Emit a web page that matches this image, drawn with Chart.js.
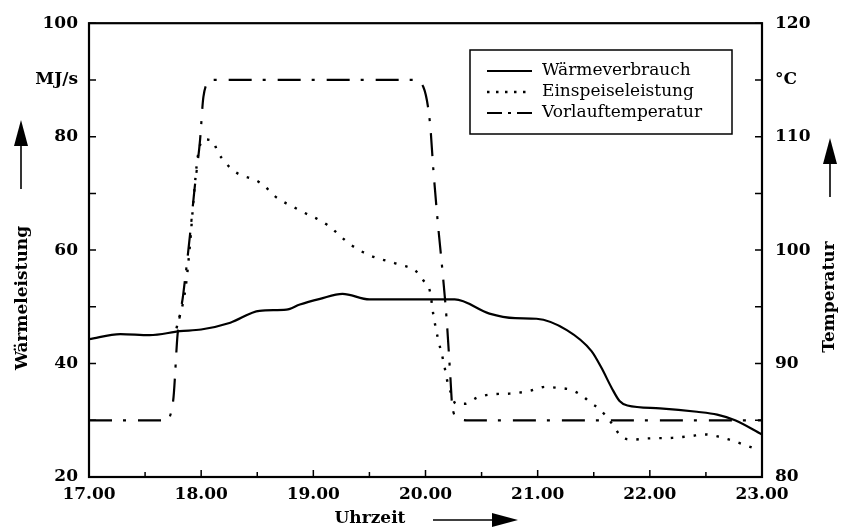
<!DOCTYPE html>
<html>
<head>
<meta charset="utf-8">
<script src="https://cdn.jsdelivr.net/npm/chart.js@4.4.1/dist/chart.umd.min.js"></script>
<style>
  html, body { margin: 0; padding: 0; background: #fff; }
</style>
</head>
<body>
<canvas id="chart" width="841" height="529"></canvas>
<script>
// Uhrzeit-Achse und Skalen
const zeitTicks = [17, 18, 19, 20, 21, 22, 23];
const leistungTicks = [20, 40, 60, 80, 100];
const tempTicks = [80, 90, 100, 110, 120];
const einheitLinks = 'MJ/s';
const einheitRechts = '°C';

// Wärmeverbrauch (MJ/s)
const verbrauchZeit = [17.0, 17.28, 17.54, 17.81, 18.0, 18.26, 18.52, 18.76, 18.88, 19.06, 19.26, 19.5, 19.77, 20.26, 20.57, 20.8, 20.99, 21.26, 21.48, 21.57, 21.66, 21.73, 21.8, 22.09, 22.42, 22.6, 22.76, 23.0];
const verbrauch = [44.3, 45.2, 45.0, 45.7, 46.0, 47.2, 49.3, 49.5, 50.4, 51.4, 52.3, 51.3, 51.3, 51.3, 48.8, 48.0, 47.9, 45.9, 42.2, 39.2, 35.7, 33.4, 32.6, 32.1, 31.5, 31.0, 30.0, 27.5];

// Einspeiseleistung (MJ/s)
const einspeiseZeit = [17.78, 17.86, 17.9, 17.93, 17.97, 18.02, 18.1, 18.15, 18.21, 18.28, 18.37, 18.48, 18.57, 18.65, 18.88, 19.12, 19.33, 19.5, 19.74, 19.92, 19.99, 20.04, 20.07, 20.11, 20.16, 20.2, 20.23, 20.27, 20.35, 20.46, 20.6, 20.75, 20.93, 21.07, 21.18, 21.29, 21.4, 21.47, 21.55, 21.64, 21.69, 21.75, 21.85, 21.98, 22.2, 22.36, 22.49, 22.67, 22.91];
const einspeisung = [46.2, 53.2, 60.9, 68.4, 76.5, 79.5, 79.3, 77.2, 75.6, 74.1, 73.1, 72.4, 71.2, 69.6, 67.0, 64.5, 61.0, 59.1, 57.6, 56.2, 54.4, 52.7, 48.6, 44.5, 40.4, 36.4, 34.7, 32.9, 32.9, 34.0, 34.6, 34.7, 35.2, 35.9, 35.7, 35.4, 34.3, 33.1, 32.0, 30.0, 28.6, 27.0, 26.6, 26.8, 26.9, 27.2, 27.5, 26.8, 25.2];

// Vorlauftemperatur (°C)
const vorlaufZeit = [17.0, 17.68, 17.75, 17.79, 17.84, 17.9, 17.94, 17.99, 18.02, 18.08, 18.12, 19.9, 19.98, 20.04, 20.07, 20.11, 20.15, 20.19, 20.22, 20.24, 20.29, 20.37, 23.0];
const vorlauf = [85, 85, 86.7, 92.6, 96.1, 101.3, 105.3, 109.7, 113.5, 114.9, 115, 115, 114.4, 111.2, 107.1, 102.4, 98.3, 93.7, 89.1, 86.1, 85.2, 85, 85];

const punkte = (xs, ys) => xs.map((x, i) => ({ x: x, y: ys[i] }));

const serif = 'DejaVu Serif';
const tickFont = { family: serif, size: 17, weight: 'bold' };

function pfeil(ctx, x0, y0, x1, y1) {
  // Pfeil von (x0,y0) nach (x1,y1)
  const ang = Math.atan2(y1 - y0, x1 - x0);
  const len = 26, half = 7;
  const bx = x1 - Math.cos(ang) * len, by = y1 - Math.sin(ang) * len;
  ctx.beginPath();
  ctx.moveTo(x0, y0);
  ctx.lineTo(bx, by);
  ctx.lineWidth = 1.6;
  ctx.stroke();
  ctx.beginPath();
  ctx.moveTo(x1, y1);
  ctx.lineTo(bx - Math.sin(ang) * half, by + Math.cos(ang) * half);
  ctx.lineTo(bx + Math.sin(ang) * half, by - Math.cos(ang) * half);
  ctx.closePath();
  ctx.fill();
}

const rahmen = {
  id: 'rahmen',
  afterDatasetsDraw(chart) {
    const { ctx, chartArea: a, scales } = chart;
    ctx.save();
    ctx.strokeStyle = '#000';
    ctx.fillStyle = '#000';
    ctx.setLineDash([]);

    // Rahmen
    ctx.lineWidth = 2.2;
    ctx.strokeRect(a.left, a.top, a.right - a.left, a.bottom - a.top);

    // Teilstriche nach innen
    ctx.lineWidth = 1.5;
    ctx.beginPath();
    for (let v = 20; v <= 100; v += 10) {
      const y = scales.y.getPixelForValue(v);
      ctx.moveTo(a.left, y); ctx.lineTo(a.left + 7, y);
    }
    for (let v = 80; v <= 120; v += 5) {
      const y = scales.y2.getPixelForValue(v);
      ctx.moveTo(a.right, y); ctx.lineTo(a.right - 7, y);
    }
    for (let h = 17; h <= 23; h += 0.5) {
      const x = scales.x.getPixelForValue(h);
      ctx.moveTo(x, a.bottom); ctx.lineTo(x, a.bottom - (h % 1 === 0 ? 7 : 5));
    }
    ctx.stroke();

    // Achsentitel
    ctx.font = 'bold 17px "' + serif + '"';
    ctx.textAlign = 'center';
    ctx.textBaseline = 'middle';
    ctx.save();
    ctx.translate(23, 298);
    ctx.rotate(-Math.PI / 2);
    ctx.fillText('Wärmeleistung', 0, 0);
    ctx.restore();
    ctx.save();
    ctx.translate(830, 297);
    ctx.rotate(-Math.PI / 2);
    ctx.fillText('Temperatur', 0, 0);
    ctx.restore();
    ctx.fillText('Uhrzeit', 370, 519);

    pfeil(ctx, 21, 189, 21, 120);
    pfeil(ctx, 830, 197, 830, 138);
    pfeil(ctx, 433, 520, 518, 520);

    // Legende
    ctx.lineWidth = 1.5;
    ctx.strokeRect(470, 50, 262, 84);
    ctx.font = '17px "' + serif + '"';
    ctx.textAlign = 'left';
    chart.data.datasets.forEach((ds, i) => {
      const y = 71 + i * 21;
      ctx.beginPath();
      ctx.lineWidth = ds.borderWidth;
      ctx.setLineDash(ds.legendDash);
      ctx.moveTo(487, y);
      ctx.lineTo(532, y);
      ctx.stroke();
      ctx.setLineDash([]);
      ctx.fillText(ds.label, 542, y);
    });
    ctx.restore();
  }
};

new Chart(document.getElementById('chart'), {
  type: 'line',
  data: {
    datasets: [
      {
        label: 'Wärmeverbrauch',
        data: punkte(verbrauchZeit, verbrauch),
        yAxisID: 'y',
        borderColor: '#000',
        borderWidth: 2.2,
        borderDash: [],
        legendDash: []
      },
      {
        label: 'Einspeiseleistung',
        data: punkte(einspeiseZeit, einspeisung),
        yAxisID: 'y',
        borderColor: '#000',
        borderWidth: 2.4,
        borderDash: [2.5, 9],
        legendDash: [2.5, 6.5]
      },
      {
        label: 'Vorlauftemperatur',
        data: punkte(vorlaufZeit, vorlauf),
        yAxisID: 'y2',
        borderColor: '#000',
        borderWidth: 2.2,
        borderDash: [23, 11, 3, 12],
        legendDash: [15, 6, 3, 6]
      }
    ]
  },
  options: {
    responsive: false,
    animation: false,
    layout: { padding: { top: 19, left: 0, right: 0, bottom: 0 } },
    elements: {
      point: { radius: 0 },
      line: { cubicInterpolationMode: 'monotone', fill: false }
    },
    plugins: {
      legend: { display: false },
      tooltip: { enabled: false }
    },
    scales: {
      x: {
        type: 'linear',
        min: 17,
        max: 23,
        afterFit: s => { s.height = 52; },
        afterBuildTicks: s => { s.ticks = zeitTicks.map(v => ({ value: v })); },
        grid: { display: false, drawTicks: false },
        border: { display: false },
        ticks: {
          color: '#000',
          font: tickFont,
          padding: 7,
          autoSkip: false,
          maxRotation: 0,
          callback: v => v.toFixed(2)
        }
      },
      y: {
        position: 'left',
        min: 20,
        max: 100,
        afterFit: s => { s.width = 89; },
        afterBuildTicks: s => { s.ticks = leistungTicks.concat([90]).sort((p, q) => p - q).map(v => ({ value: v })); },
        grid: { display: false, drawTicks: false },
        border: { display: false },
        ticks: {
          color: '#000',
          font: tickFont,
          padding: 11,
          autoSkip: false,
          callback: v => (leistungTicks.includes(v) ? String(v) : einheitLinks)
        }
      },
      y2: {
        position: 'right',
        min: 80,
        max: 120,
        afterFit: s => { s.width = 79; },
        afterBuildTicks: s => { s.ticks = tempTicks.concat([115]).sort((p, q) => p - q).map(v => ({ value: v })); },
        grid: { display: false, drawTicks: false },
        border: { display: false },
        ticks: {
          color: '#000',
          font: tickFont,
          padding: 13,
          autoSkip: false,
          callback: v => (tempTicks.includes(v) ? String(v) : einheitRechts)
        }
      }
    }
  },
  plugins: [rahmen]
});
</script>
</body>
</html>
